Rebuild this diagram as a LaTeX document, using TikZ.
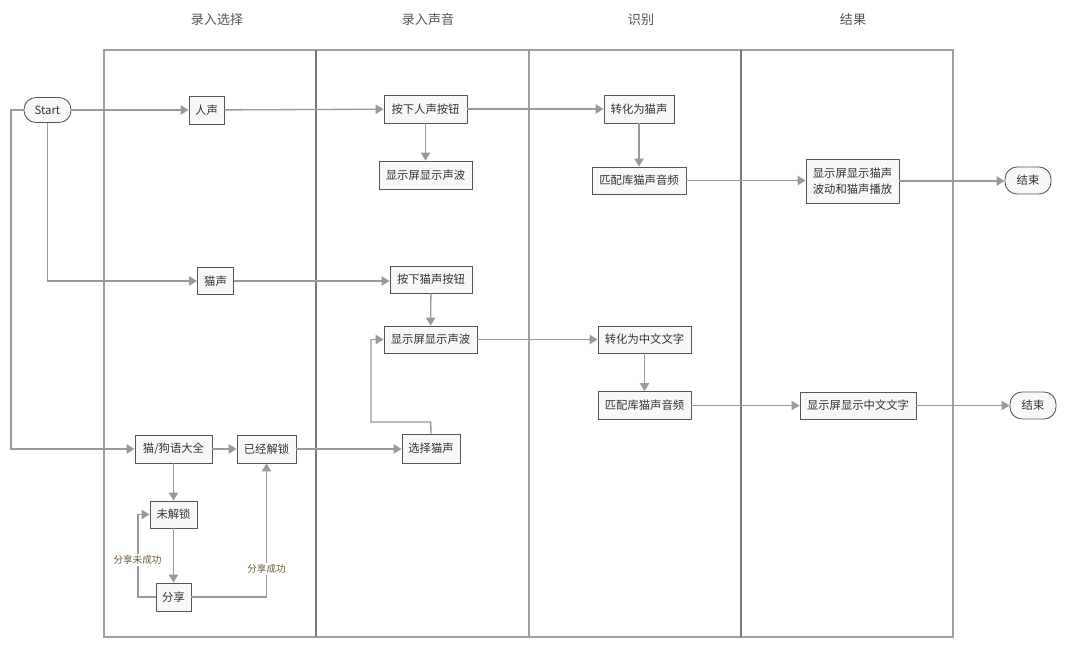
\documentclass[tikz,border=0pt]{standalone}
\usepackage{fontspec}
\setmainfont{Noto Sans CJK SC}
\usetikzlibrary{arrows.meta}
\definecolor{ln}{HTML}{9A9A9A}
\definecolor{boxc}{HTML}{555555}
\definecolor{boxf}{HTML}{F8F8F8}
\definecolor{txt}{HTML}{333333}
\definecolor{lane}{HTML}{A0A0A0}
\definecolor{sep}{HTML}{7A7A7A}
\definecolor{lbl}{HTML}{6B5B3A}
\definecolor{hdr}{HTML}{555555}
\tikzset{
  box/.style={draw=boxc, fill=boxf, line width=0.65pt, inner sep=0pt, text=txt,
    font=\fontsize{8.5}{12}\selectfont, align=center},
  term/.style={box, rounded corners=9pt},
  conn/.style={draw=ln, line width=1pt, -{Triangle[length=6pt,width=7pt]}},
  plain/.style={draw=ln, line width=1pt},
  hdrtext/.style={text=hdr, font=\fontsize{9.8}{12}\selectfont},
  lbltext/.style={text=lbl, fill=white, inner sep=1pt, font=\fontsize{7.2}{9}\selectfont}
}
\begin{document}
\begin{tikzpicture}[x=0.75pt,y=-0.75pt]
\useasboundingbox (0,0) rectangle (1067,649);
% lanes
\draw[lane, line width=1.1pt] (104,50) rectangle (953,637);
\draw[sep, line width=0.8pt] (316,50) -- (316,637);
\draw[lane, line width=1.1pt] (529,50) -- (529,637);
\draw[sep, line width=0.8pt] (741,50) -- (741,637);
% headers
\node[hdrtext] (h1) at (217,20) {录入选择};
\node[hdrtext] (h2) at (428,20) {录入声音};
\node[hdrtext] (h3) at (641,20) {识别};
\node[hdrtext] (h4) at (853,20) {结果};
% nodes
\node[term, minimum width=35.25pt, minimum height=18.75pt] (start) at (47.5,110) {Start};
\node[box, minimum width=26.25pt, minimum height=21pt] (rs) at (206.5,110) {人声};
\node[box, minimum width=62.25pt, minimum height=21pt] (arsan) at (425.5,109) {按下人声按钮};
\node[box, minimum width=69.75pt, minimum height=21pt] (xs1) at (425.5,175) {显示屏显示声波};
\node[box, minimum width=52.5pt, minimum height=21pt] (zhms) at (639,109) {转化为猫声};
\node[box, minimum width=70.5pt, minimum height=20.25pt] (ppk1) at (639,180.5) {匹配库猫声音频};
\node[box, minimum width=69.75pt, minimum height=33pt] (xsmb) at (852.5,181) {显示屏显示猫声\\波动和猫声播放};
\node[term, minimum width=34.5pt, minimum height=20.25pt] (end1) at (1028,180.5) {结束};
\node[box, minimum width=27pt, minimum height=20.25pt] (ms) at (215.5,281) {猫声};
\node[box, minimum width=61.5pt, minimum height=20.25pt] (amsan) at (431,279.5) {按下猫声按钮};
\node[box, minimum width=69.75pt, minimum height=20.25pt] (xs2) at (430.5,339.5) {显示屏显示声波};
\node[box, minimum width=69.75pt, minimum height=20.25pt] (zhzw) at (644.5,339.5) {转化为中文文字};
\node[box, minimum width=69.75pt, minimum height=21pt] (ppk2) at (644.5,405.5) {匹配库猫声音频};
\node[box, minimum width=87pt, minimum height=20.25pt] (xszw) at (858,405.5) {显示屏显示中文文字};
\node[term, minimum width=34.5pt, minimum height=20.25pt] (end2) at (1033,405.5) {结束};
\node[box, minimum width=43.5pt, minimum height=21.75pt] (xzms) at (431,448.5) {选择猫声};
\node[box, minimum width=57.75pt, minimum height=21pt] (mgy) at (173.5,449) {猫/狗语大全};
\node[box, minimum width=44.25pt, minimum height=21pt] (yjjs) at (266.5,449) {已经解锁};
\node[box, minimum width=35.25pt, minimum height=20.25pt] (wjs) at (173.5,514.5) {未解锁};
\node[box, minimum width=26.25pt, minimum height=21pt] (fx) at (173.5,597) {分享};
% helper coordinates
\coordinate (c1) at (47.5,281);
\coordinate (c2) at (11,110);
\coordinate (c3) at (11,449);
\coordinate (c4) at (430.7,422);
\coordinate (c5) at (371,422);
\coordinate (c6) at (371,339.5);
\coordinate (c7) at (138,597);
\coordinate (c8) at (138,514.5);
\coordinate (c9) at (266.5,597);
% connectors
\draw[conn] (start) -- (rs);
\draw[conn] (start.south) -- (c1) -- (ms);
\draw[conn] (start.west) -- (c2) -- (c3) -- (mgy);
\draw[conn] (rs) -- (arsan);
\draw[conn] (arsan) -- (arsan.east -| zhms.west);
\draw[conn] (arsan) -- (xs1);
\draw[conn] (zhms) -- (ppk1);
\draw[conn] (ppk1.east) -- (ppk1.east -| xsmb.west);
\draw[conn] (xsmb.east) -- (xsmb.east -| end1.west);
\draw[conn] (ms) -- (ms.east -| amsan.west);
\draw[conn] (amsan) -- (xs2);
\draw[conn] (xs2) -- (zhzw);
\draw[conn] (zhzw) -- (ppk2);
\draw[conn] (ppk2) -- (xszw);
\draw[conn] (xszw) -- (end2);
\draw[conn] (mgy) -- (yjjs);
\draw[conn] (yjjs) -- (yjjs.east -| xzms.west);
\draw[conn] (xzms.north) -- (c4) -- (c5) -- (c6) -- (xs2.west);
\draw[conn] (mgy) -- (wjs);
\draw[conn] (wjs) -- (fx);
\draw[conn] (fx.west) -- (c7) -- (c8) -- (wjs.west);
\draw[conn] (fx.east) -- (c9) -- (yjjs.south);
% labels
\node[lbltext] (l1) at (137.5,560) {分享未成功};
\node[lbltext] (l2) at (266.5,569) {分享成功};
\end{tikzpicture}
\end{document}
